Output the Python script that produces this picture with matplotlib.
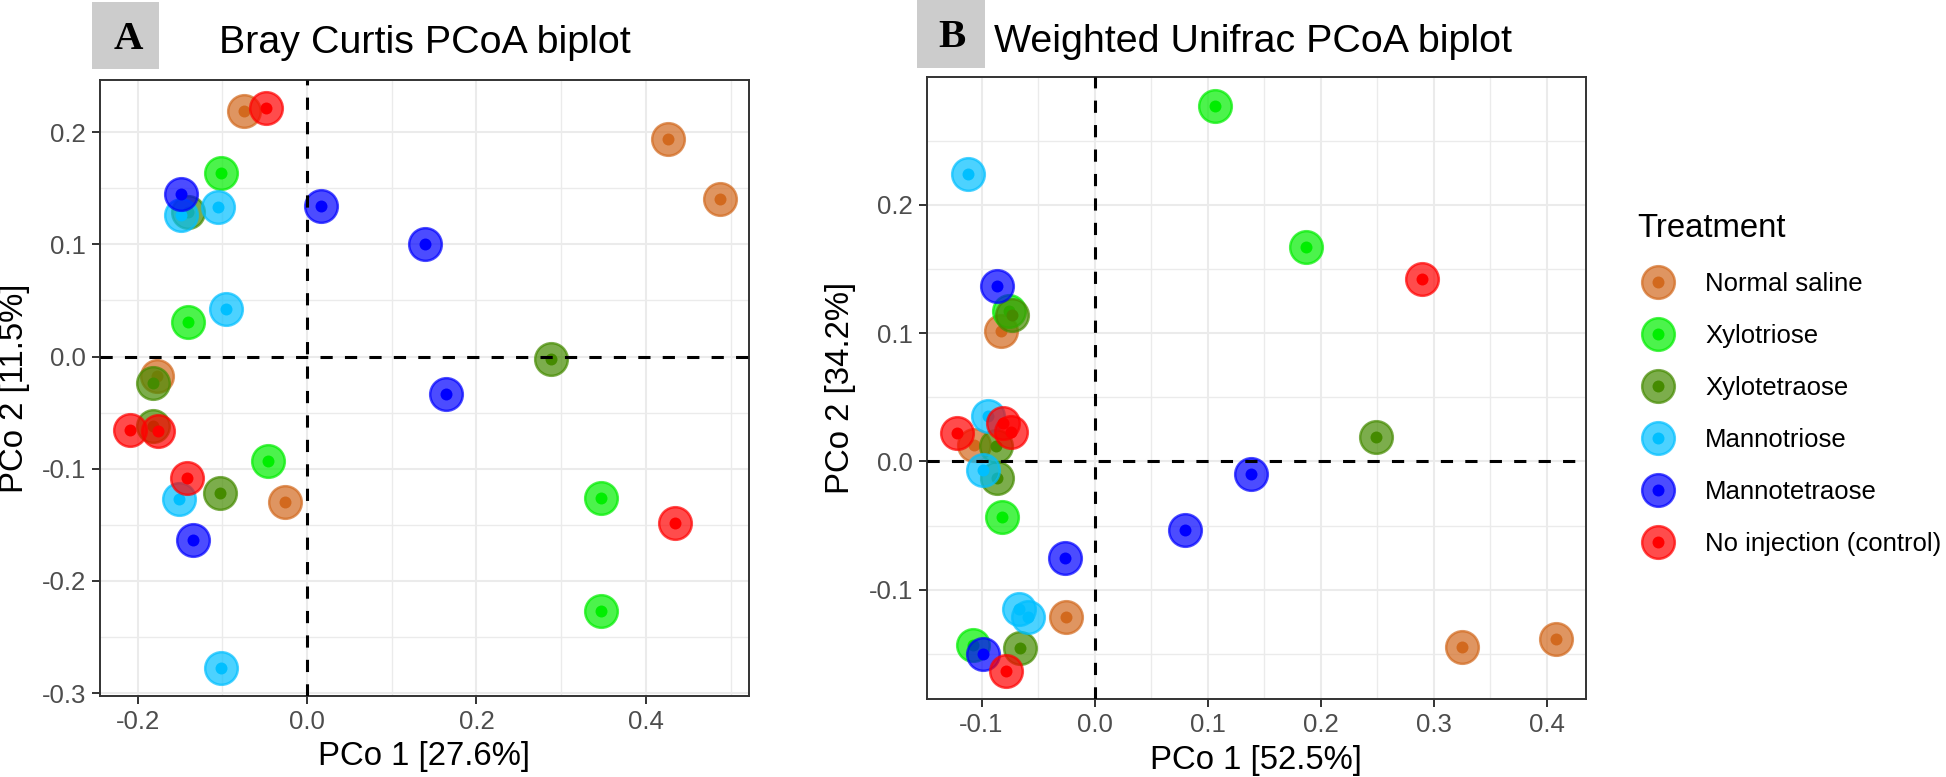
import matplotlib
matplotlib.use("Agg")
import matplotlib.pyplot as plt
from matplotlib.lines import Line2D
from matplotlib.patches import Rectangle
from matplotlib.ticker import MultipleLocator, FormatStrFormatter
from matplotlib.colors import to_rgba

plt.rcParams['font.family'] = ['Liberation Sans', 'DejaVu Sans']
plt.rcParams['axes.unicode_minus'] = False

# ---------------- data ----------------
treatments = ["Normal saline", "Xylotriose", "Xylotetraose",
              "Mannotriose", "Mannotetraose", "No injection (control)"]
colors = ["#D2691E", "#00EE00", "#458B00", "#00BFFF", "#0000FF", "#FF0000"]

# Panel A: Bray Curtis
bc_normal_x = [-0.0745, 0.4267, 0.487, -0.1776, -0.0267]
bc_normal_y = [0.2193, 0.1941, 0.1407, -0.0177, -0.130]
bc_xylotri_x = [-0.1012, -0.1404, -0.0463, 0.3475, 0.3475]
bc_xylotri_y = [0.164, 0.0305, -0.0931, -0.1259, -0.2266]
bc_xylotetra_x = [-0.1404, -0.1824, -0.1824, 0.2882, -0.1024]
bc_xylotetra_y = [0.1285, -0.0236, -0.062, -0.002, -0.122]
bc_mannotri_x = [-0.149, -0.105, -0.096, -0.151, -0.1012]
bc_mannotri_y = [0.126, 0.1336, 0.042, -0.127, -0.2777]
bc_mannotetra_x = [-0.149, 0.0165, 0.1388, 0.1635, -0.1353]
bc_mannotetra_y = [0.1449, 0.1345, 0.0999, -0.0335, -0.164]
bc_control_x = [-0.0482, -0.2098, -0.1757, -0.1416, 0.4341]
bc_control_y = [0.2216, -0.0659, -0.0665, -0.1084, -0.1483]

# Panel B: Weighted Unifrac
wu_normal_x = [-0.0832, -0.1067, -0.0252, 0.3247, 0.408]
wu_normal_y = [0.1019, 0.013, -0.1213, -0.1448, -0.1382]
wu_xylotri_x = [0.1064, 0.1865, -0.0758, -0.0823, -0.1076]
wu_xylotri_y = [0.2774, 0.1673, 0.1174, -0.0435, -0.1433]
wu_xylotetra_x = [-0.0728, 0.2488, -0.0876, -0.0867, -0.0664]
wu_xylotetra_y = [0.114, 0.019, 0.0122, -0.0129, -0.1451]
wu_mannotri_x = [-0.112, -0.0943, -0.0984, -0.067, -0.0587]
wu_mannotri_y = [0.2243, 0.0355, -0.007, -0.1153, -0.121]
wu_mannotetra_x = [-0.0867, 0.1379, 0.080, -0.0264, -0.0984]
wu_mannotetra_y = [0.1366, -0.0098, -0.0531, -0.0751, -0.1503]
wu_control_x = [0.2894, -0.122, -0.0808, -0.0737, -0.0781]
wu_control_y = [0.1425, 0.0221, 0.0298, 0.0233, -0.1633]

bc_x = [bc_normal_x, bc_xylotri_x, bc_xylotetra_x, bc_mannotri_x, bc_mannotetra_x, bc_control_x]
bc_y = [bc_normal_y, bc_xylotri_y, bc_xylotetra_y, bc_mannotri_y, bc_mannotetra_y, bc_control_y]
wu_x = [wu_normal_x, wu_xylotri_x, wu_xylotetra_x, wu_mannotri_x, wu_mannotetra_x, wu_control_x]
wu_y = [wu_normal_y, wu_xylotri_y, wu_xylotetra_y, wu_mannotri_y, wu_mannotetra_y, wu_control_y]

titles = ["Bray Curtis PCoA biplot", "Weighted Unifrac PCoA biplot"]
panel_tags = ["A", "B"]
xlabels = ["PCo 1 [27.6%]", "PCo 1 [52.5%]"]
ylabels = ["PCo 2 [11.5%]", "PCo 2 [34.2%]"]

# ---------------- style ----------------
W, H = 1946, 777
DPI = 100
fig = plt.figure(figsize=(W / DPI, H / DPI), dpi=DPI)

BASE = 23.7
TICK_FS = 18.5
TITLE_FS = 28.4
ALPHA = 0.7
OUTER_D = 23.5      # points
INNER_D = 8.6
EDGE_W = 1.8


def px_rect(l, t, r, b):
    return [l / W, 1 - b / H, (r - l) / W, (b - t) / H]


axA = fig.add_axes(px_rect(100, 80, 749, 696))
axB = fig.add_axes(px_rect(926.7, 77.3, 1586, 699.3))


def limits(groups):
    vals = [v for g in groups for v in g]
    lo, hi = min(vals), max(vals)
    r = hi - lo
    return lo - 0.05 * r, hi + 0.05 * r


def draw_panel(ax, xs, ys, xmaj, xmin_, ymaj, ymin_):
    z = 3
    for gx, gy, c in zip(xs, ys, colors):
        rgba = to_rgba(c, ALPHA)
        ax.scatter(gx, gy, s=OUTER_D ** 2, facecolor=rgba, edgecolor=rgba,
                   linewidths=EDGE_W, zorder=z)
        ax.scatter(gx, gy, s=INNER_D ** 2, color=c, linewidths=0, zorder=z + 0.5)
        z += 1
    ax.set_xlim(*limits(xs))
    ax.set_ylim(*limits(ys))
    ax.axhline(0, color="black", lw=2.2, ls=(0, (4, 4)), zorder=20)
    ax.axvline(0, color="black", lw=2.2, ls=(0, (4, 4)), zorder=20)
    ax.xaxis.set_major_locator(MultipleLocator(xmaj))
    ax.xaxis.set_minor_locator(MultipleLocator(xmin_))
    ax.yaxis.set_major_locator(MultipleLocator(ymaj))
    ax.yaxis.set_minor_locator(MultipleLocator(ymin_))
    ax.xaxis.set_major_formatter(FormatStrFormatter('%.1f'))
    ax.yaxis.set_major_formatter(FormatStrFormatter('%.1f'))
    ax.set_axisbelow(True)
    ax.grid(which='major', color='#EBEBEB', lw=1.5)
    ax.grid(which='minor', color='#EBEBEB', lw=1.0)
    ax.tick_params(which='major', length=6, width=1.4, color='#333333',
                   labelsize=TICK_FS, labelcolor='#4D4D4D', pad=4)
    ax.tick_params(which='minor', length=0)
    for sp in ax.spines.values():
        sp.set_color('#333333')
        sp.set_linewidth(1.4)


draw_panel(axA, bc_x, bc_y, 0.2, 0.1, 0.1, 0.05)
draw_panel(axB, wu_x, wu_y, 0.1, 0.05, 0.1, 0.05)

for ax, xl, yl, xc, yc in [(axA, xlabels[0], ylabels[0], -0.099, -0.131),
                           (axB, xlabels[1], ylabels[1], -0.0976, -0.1315)]:
    ax.set_xlabel(xl, fontsize=BASE, color='black')
    ax.set_ylabel(yl, fontsize=BASE, color='black')
    ax.xaxis.label.set_verticalalignment('center')
    ax.yaxis.label.set_verticalalignment('center')
    ax.xaxis.set_label_coords(0.5, xc)
    ax.yaxis.set_label_coords(yc, 0.5)

# panel tags and titles
for (l, t, r, b), tag, tag_x, tag_base, title, tx, tbase in [
        ((91.5, 1.7, 159, 69), panel_tags[0], 128.5, 49, titles[0], 219, 53),
        ((917, 0, 985, 68), panel_tags[1], 952, 47, titles[1], 994, 52)]:
    fig.patches.append(Rectangle((l / W, 1 - b / H), (r - l) / W, (b - t) / H,
                                 transform=fig.transFigure, facecolor='#CCCCCC',
                                 edgecolor='none'))
    fig.text(tag_x / W, 1 - tag_base / H, tag, family='Liberation Serif',
             fontweight='bold', fontsize=29.4, ha='center', va='baseline')
    fig.text(tx / W, 1 - tbase / H, title, fontsize=TITLE_FS, ha='left', va='baseline')

# legend
handles = []
for c in colors:
    rgba = to_rgba(c, ALPHA)
    outer = Line2D([], [], ls='', marker='o', markersize=OUTER_D,
                   markerfacecolor=rgba, markeredgecolor=rgba, markeredgewidth=EDGE_W)
    inner = Line2D([], [], ls='', marker='o', markersize=INNER_D,
                   markerfacecolor=c, markeredgecolor='none')
    handles.append((outer, inner))

leg = fig.legend(handles, treatments, loc='upper left',
                 bbox_to_anchor=(1637 / W, 1 - 213 / H),
                 title='Treatment', title_fontsize=BASE, fontsize=TICK_FS,
                 frameon=False, alignment='left', borderpad=0, borderaxespad=0,
                 handlelength=1.6, handletextpad=1.05, labelspacing=1.09)

fig.savefig("out.png", dpi=DPI)
